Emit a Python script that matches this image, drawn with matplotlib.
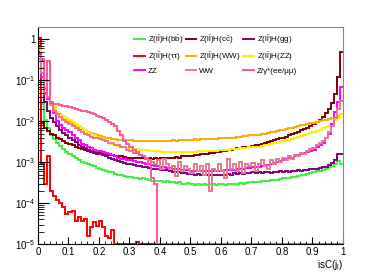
import numpy as np
import matplotlib
matplotlib.use('Agg')
import matplotlib.pyplot as plt
from matplotlib.ticker import FixedLocator, MultipleLocator, LogLocator, FuncFormatter

plt.rcParams['font.family'] = ['Liberation Sans', 'DejaVu Sans']
plt.rcParams['mathtext.default'] = 'regular'

# 100 bins from 0 to 1
edges = np.linspace(0, 1, 101)

zh_bb = [0.8, 0.026, 0.011, 0.007, 0.0045, 0.0036, 0.003, 0.0025, 0.0021, 0.0018,
         0.0016, 0.0014, 0.0013, 0.0011, 0.001, 0.00095, 0.0009, 0.00085, 0.0008, 0.00072,
         0.00068, 0.00066, 0.00062, 0.00058, 0.00056, 0.00052, 0.0005, 0.00048, 0.00046, 0.00044,
         0.00043, 0.00042, 0.0004, 0.00039, 0.0004, 0.00038, 0.00037, 0.00035, 0.00034, 0.00035,
         0.00034, 0.00033, 0.00034, 0.00032, 0.00033, 0.00031, 0.00032, 0.00029, 0.0003, 0.00031,
         0.0003, 0.00028, 0.0003, 0.00027, 0.0003, 0.00028, 0.0003, 0.00029, 0.00028, 0.00029,
         0.00029, 0.00028, 0.0003, 0.00029, 0.0003, 0.0003, 0.00031, 0.0003, 0.00031, 0.00032,
         0.00032, 0.00033, 0.00032, 0.00034, 0.00034, 0.00035, 0.00036, 0.00037, 0.00037, 0.00038,
         0.0004, 0.0004, 0.00042, 0.00043, 0.00044, 0.00046, 0.00048, 0.0005, 0.00052, 0.00055,
         0.00056, 0.0006, 0.00062, 0.00066, 0.0007, 0.00075, 0.00082, 0.0009, 0.00105, 0.0009]

zh_cc = [0.7, 0.0095, 0.007, 0.0058, 0.005, 0.0045, 0.004, 0.0036, 0.0033, 0.003,
         0.0028, 0.0026, 0.0024, 0.0022, 0.0021, 0.002, 0.0019, 0.0018, 0.0018, 0.0017,
         0.0017, 0.0016, 0.0016, 0.0015, 0.0015, 0.0014, 0.0014, 0.0014, 0.00135, 0.0013,
         0.0013, 0.0013, 0.00125, 0.0013, 0.00125, 0.0012, 0.00125, 0.0012, 0.00125, 0.0012,
         0.00125, 0.0013, 0.00125, 0.0013, 0.0013, 0.00135, 0.0013, 0.0014, 0.0014, 0.0014,
         0.00145, 0.0015, 0.0015, 0.0016, 0.0016, 0.0016, 0.0017, 0.0017, 0.0018, 0.0018,
         0.0019, 0.0019, 0.002, 0.002, 0.0021, 0.0022, 0.0022, 0.0023, 0.0024, 0.0024,
         0.0025, 0.0026, 0.0027, 0.0028, 0.003, 0.0031, 0.0033, 0.0034, 0.0036, 0.0038,
         0.004, 0.0042, 0.0045, 0.0048, 0.0051, 0.0055, 0.006, 0.0065, 0.007, 0.0077,
         0.0085, 0.0095, 0.011, 0.013, 0.016, 0.02, 0.028, 0.045, 0.12, 0.48]

zh_gg = [0.5, 0.3, 0.03, 0.018, 0.012, 0.0095, 0.0075, 0.0062, 0.0052, 0.0045,
         0.004, 0.0035, 0.0031, 0.0027, 0.0024, 0.0022, 0.002, 0.0019, 0.0017, 0.0016,
         0.0016, 0.0015, 0.0014, 0.0013, 0.0012, 0.0011, 0.00105, 0.001, 0.00095, 0.0009,
         0.00088, 0.00085, 0.00082, 0.0008, 0.00078, 0.00075, 0.00073, 0.0007, 0.00069, 0.00068,
         0.00066, 0.00064, 0.00063, 0.0006, 0.00059, 0.00057, 0.00056, 0.00055, 0.00054, 0.00052,
         0.00052, 0.0005, 0.00051, 0.0005, 0.00049, 0.0005, 0.00049, 0.0005, 0.00048, 0.0005,
         0.0005, 0.00049, 0.00052, 0.0005, 0.00053, 0.00051, 0.00054, 0.00052, 0.00055, 0.00053,
         0.00056, 0.00054, 0.00057, 0.00055, 0.00056, 0.00058, 0.00055, 0.00059, 0.00057, 0.0006,
         0.00058, 0.00061, 0.00059, 0.00062, 0.0006, 0.00064, 0.00062, 0.00066, 0.00065, 0.00068,
         0.00067, 0.0007, 0.00072, 0.00075, 0.00078, 0.00085, 0.00095, 0.0011, 0.0016, 0.0016]

zh_tautau = [1.05, 0.0009, 0.0003, 0.0014, 0.0002, 0.00015, 0.00012, 0.0001, 8e-05, 5.5e-05,
             6e-05, 6.5e-05, 3.6e-05, 4.5e-05, 3.6e-05, 4.2e-05, 1.6e-05, 2.6e-05, 3.5e-05, 2.8e-05,
             3.6e-05, 2.6e-05, 1.6e-05, 1.4e-05, 2.2e-05, 0, 0, 0, 0, 0,
             0, 0, 1.1e-05, 0, 0, 0, 0, 0, 0, 0,
             0, 0, 0, 0, 0, 0, 0, 0, 0, 0,
             0, 0, 0, 0, 0, 0, 0, 0, 0, 0,
             0, 0, 0, 0, 0, 0, 0, 0, 0, 0,
             0, 0, 0, 0, 0, 0, 0, 0, 0, 0,
             0, 0, 0, 0, 0, 0, 0, 0, 0, 0,
             0, 0, 0, 0, 0, 0, 0, 0, 0, 0]

zh_ww = [0.6, 0.2, 0.06, 0.035, 0.025, 0.02, 0.015, 0.013, 0.0115, 0.0105,
         0.0095, 0.0085, 0.0078, 0.007, 0.0064, 0.006, 0.0055, 0.0051, 0.0048, 0.0045,
         0.0043, 0.0041, 0.004, 0.0038, 0.0037, 0.0036, 0.0035, 0.0035, 0.0034, 0.0034,
         0.0034, 0.0033, 0.0033, 0.0033, 0.0032, 0.0033, 0.0032, 0.0032, 0.0033, 0.0032,
         0.0033, 0.0032, 0.0033, 0.0033, 0.0034, 0.0033, 0.0034, 0.0034, 0.0035, 0.0035,
         0.0035, 0.0036, 0.0035, 0.0036, 0.0036, 0.0036, 0.0037, 0.0037, 0.0037, 0.0038,
         0.0038, 0.0039, 0.0039, 0.004, 0.004, 0.0041, 0.0042, 0.0043, 0.0044, 0.0045,
         0.0045, 0.0046, 0.0047, 0.0049, 0.005, 0.0052, 0.0054, 0.0056, 0.0058, 0.006,
         0.0062, 0.0065, 0.0068, 0.007, 0.0073, 0.0076, 0.0079, 0.0082, 0.0086, 0.009,
         0.0093, 0.0097, 0.01, 0.0105, 0.011, 0.0115, 0.012, 0.0128, 0.0138, 0.015]

zh_zz = [0.55, 0.2, 0.07, 0.04, 0.028, 0.022, 0.017, 0.015, 0.0135, 0.012,
         0.011, 0.0098, 0.0088, 0.0078, 0.007, 0.0062, 0.0056, 0.005, 0.0045, 0.0042,
         0.004, 0.0036, 0.0033, 0.003, 0.0028, 0.0026, 0.0025, 0.0024, 0.0023, 0.0022,
         0.0022, 0.0021, 0.0021, 0.002, 0.002, 0.002, 0.0019, 0.0019, 0.0019, 0.0019,
         0.0018, 0.0018, 0.0018, 0.0018, 0.00175, 0.00175, 0.00175, 0.0018, 0.0018, 0.0018,
         0.0018, 0.0018, 0.00185, 0.0019, 0.0019, 0.0019, 0.0019, 0.0019, 0.0019, 0.002,
         0.002, 0.002, 0.002, 0.0021, 0.0021, 0.0021, 0.0022, 0.0022, 0.0022, 0.0023,
         0.0023, 0.0024, 0.0024, 0.0025, 0.0026, 0.0027, 0.0028, 0.0029, 0.003, 0.0031,
         0.0032, 0.0034, 0.0035, 0.0037, 0.0039, 0.0041, 0.0043, 0.0046, 0.0049, 0.0052,
         0.0055, 0.0058, 0.0062, 0.0067, 0.0072, 0.0078, 0.0087, 0.0105, 0.012, 0.015]

bkg_zz = [0.45, 0.12, 0.05, 0.035, 0.026, 0.016, 0.01, 0.008, 0.0068, 0.006,
          0.0054, 0.0045, 0.004, 0.0034, 0.0028, 0.0026, 0.0024, 0.0022, 0.002, 0.0019,
          0.0019, 0.0018, 0.0017, 0.0016, 0.0015, 0.0014, 0.0013, 0.0012, 0.0012, 0.0011,
          0.0011, 0.00105, 0.001, 0.001, 0.00095, 0.0009, 0.00088, 0.00085, 0.00082, 0.0008,
          0.00078, 0.00076, 0.00074, 0.00072, 0.0007, 0.00068, 0.00068, 0.00066, 0.00064, 0.00063,
          0.00062, 0.00062, 0.00061, 0.0006, 0.00062, 0.00061, 0.0006, 0.00062, 0.00061, 0.00062,
          0.00062, 0.00063, 0.00064, 0.00065, 0.00066, 0.00068, 0.00068, 0.0007, 0.00072, 0.00074,
          0.00075, 0.00076, 0.00078, 0.0008, 0.00083, 0.00086, 0.0009, 0.00095, 0.001, 0.00105,
          0.0011, 0.0012, 0.00125, 0.0013, 0.0014, 0.0015, 0.0016, 0.0017, 0.0018, 0.0019,
          0.002, 0.0023, 0.0026, 0.003, 0.0038, 0.0048, 0.0085, 0.017, 0.03, 0.067]

bkg_ww = [0.4, 0.15, 0.06, 0.04, 0.025, 0.018, 0.015, 0.013, 0.011, 0.0095,
          0.0085, 0.0075, 0.0068, 0.006, 0.0055, 0.005, 0.0046, 0.0042, 0.004, 0.0038,
          0.0036, 0.0034, 0.0032, 0.003, 0.003, 0.0027, 0.0026, 0.0024, 0.0023, 0.002,
          0.0019, 0.0017, 0.0018, 0.0015, 0.0014, 0.0013, 0.0011, 0.001, 0.0009, 0.0011,
          0.0007, 0.0012, 0.0009, 0.0007, 0.0008, 0.00045, 0.001, 0.0006, 0.0008, 0.0007,
          0.00055, 0.0009, 0.0006, 0.0008, 0.0005, 0.0009, 0.0002, 0.0007, 0.0006, 0.0009,
          0.0006, 0.0004, 0.0012, 0.0007, 0.0009, 0.0006, 0.001, 0.00055, 0.0009, 0.0008,
          0.00095, 0.0006, 0.0009, 0.0011, 0.0008, 0.0007, 0.0011, 0.0009, 0.0012, 0.001,
          0.0013, 0.0011, 0.0014, 0.0012, 0.0015, 0.0014, 0.0017, 0.0016, 0.0019, 0.0021,
          0.0022, 0.0026, 0.003, 0.0033, 0.004, 0.0055, 0.0075, 0.012, 0.02, 0.031]

bkg_zgamma = [0.33, 0.33, 0.045, 0.29, 0.03, 0.027, 0.026, 0.025, 0.024, 0.023,
              0.022, 0.021, 0.02, 0.019, 0.018, 0.0175, 0.017, 0.016, 0.015, 0.0135,
              0.0125, 0.012, 0.011, 0.0095, 0.0085, 0.0075, 0.0057, 0.0045, 0.0033, 0.0028,
              0.0023, 0.002, 0.0017, 0.0015, 0.0014, 0.0012, 0.0009, 0.0004, 0.0003, 0,
              0, 0, 0, 0, 0, 0, 0, 0, 0, 0,
              0, 0, 0, 0, 0, 0, 0, 0, 0, 0,
              0, 0, 0, 0, 0, 0, 0, 0, 0, 0,
              0, 0, 0, 0, 0, 0, 0, 0, 0, 0,
              0, 0, 0, 0, 0, 0, 0, 0, 0, 0,
              0, 0, 0, 0, 0, 0, 0, 0, 0, 0]

series = [
    (zh_bb, '#3cf03c', r'Z(l$\bar{l}$)H(b$\bar{b}$)'),
    (zh_cc, '#800000', r'Z(l$\bar{l}$)H(c$\bar{c}$)'),
    (zh_gg, '#800080', r'Z(l$\bar{l}$)H(gg)'),
    (zh_tautau, '#ff0000', r'Z(l$\bar{l}$)H(ττ)'),
    (zh_ww, '#ffaa00', r'Z(l$\bar{l}$)H(WW)'),
    (zh_zz, '#ffee00', r'Z(l$\bar{l}$)H(ZZ)'),
    (bkg_zz, '#ff00ff', 'ZZ'),
    (bkg_ww, '#e8798c', 'WW'),
    (bkg_zgamma, '#ff5599', 'Z/γ*(ee/μμ)'),
]

ymin, ymax = 1e-5, 2.0

fig = plt.figure(figsize=(3.81, 2.73), dpi=100)
ax = fig.add_axes([0.0997, 0.106, 0.8005, 0.795])

handles = []
for vals, col, lab in series:
    v = np.array(vals, dtype=float)
    v = np.where(v > 0, v, ymin)       # empty bins drawn on the axis like ROOT
    h = ax.stairs(v, edges, baseline=None, color=col, lw=1.4, label=lab)
    handles.append(h)

ax.set_yscale('log')
ax.set_xlim(0, 1)
ax.set_ylim(ymin, ymax)

ax.xaxis.set_major_locator(MultipleLocator(0.1))
ax.xaxis.set_minor_locator(MultipleLocator(0.02))
ax.xaxis.set_major_formatter(FuncFormatter(lambda x, p: '0' if x == 0 else ('1' if abs(x - 1) < 1e-9 else f'{x:.1f}')))
ax.yaxis.set_major_locator(FixedLocator([1e-5, 1e-4, 1e-3, 1e-2, 1e-1, 1]))
ax.yaxis.set_minor_locator(LogLocator(base=10, subs=np.arange(2, 10), numticks=20))
ax.yaxis.set_major_formatter(FuncFormatter(lambda y, p: '1' if y == 1 else r'$10^{%d}$' % round(np.log10(y))))

ax.tick_params(which='both', direction='in', labelsize=7, top=False, right=False, pad=2)
ax.tick_params(axis='y', which='major', length=8)
ax.tick_params(axis='y', which='minor', length=4)
ax.tick_params(axis='x', which='major', length=5)
ax.tick_params(axis='x', which='minor', length=2.5)

for s in ['top', 'right']:
    ax.spines[s].set_color('#888888')

ax.set_xlabel(r'isC(j$_l$)', fontsize=7, loc='right', labelpad=1)

# legend filled row by row like ROOT: reorder for column filling
order = [0, 3, 6, 1, 4, 7, 2, 5, 8]
ax.legend([handles[i] for i in order], [series[i][2] for i in order],
          ncol=3, loc='upper left', bbox_to_anchor=(0.305, 0.985), frameon=False,
          fontsize=5.8, handlelength=1.3, handletextpad=0.4, columnspacing=0.3,
          labelspacing=0.55, borderaxespad=0.0, borderpad=0.4)

plt.savefig('out.png', dpi=100)
